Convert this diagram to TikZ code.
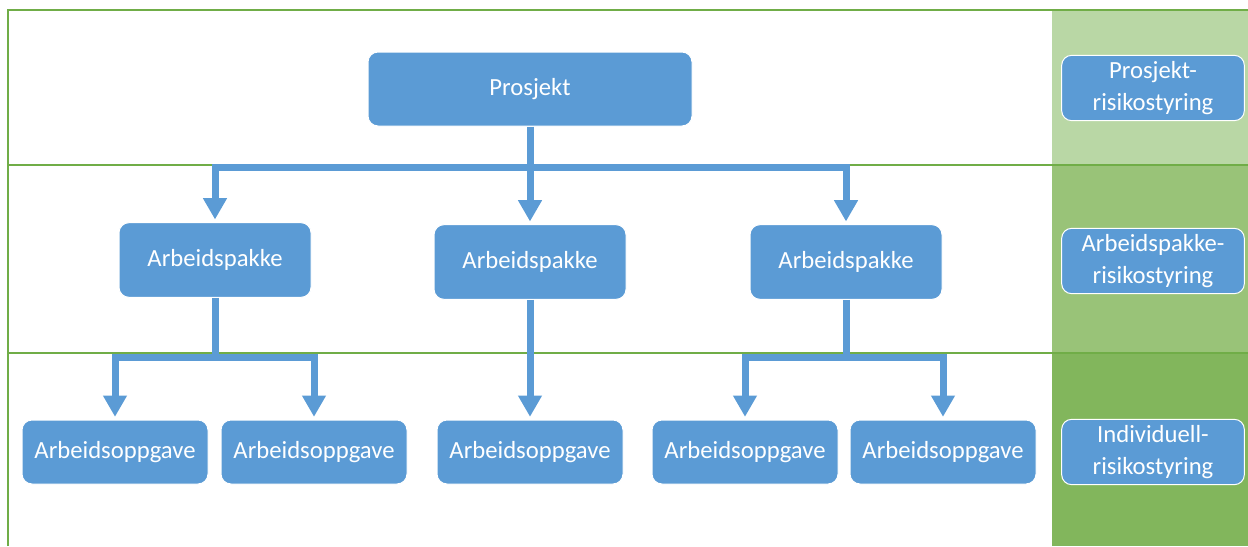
\documentclass[tikz,border=0pt]{standalone}
\usepackage{fontspec}
\setmainfont{Carlito}
\usetikzlibrary{arrows.meta}

\definecolor{boxblue}{HTML}{5B9BD5}
\definecolor{linegreen}{HTML}{70AD47}
\definecolor{bandtop}{RGB}{185,215,165}
\definecolor{bandmid}{RGB}{153,195,120}
\definecolor{bandlow}{RGB}{130,182,92}

\tikzset{every picture/.style={line width=0.75pt}}
\tikzset{
  unit/.style={draw=white, fill=boxblue, rounded corners=7.5pt, text=white,
    font=\fontsize{18.5}{23.5}\selectfont, align=center, inner sep=0pt},
  topunit/.style={unit, minimum width=243pt, minimum height=55.5pt},
  pakke/.style={unit, minimum width=144pt, minimum height=56pt},
  oppgave/.style={unit, minimum width=139.5pt, minimum height=48pt},
  levelbox/.style={unit, minimum width=137pt, minimum height=49pt},
  border/.style={draw=linegreen, line width=1.5pt},
  link/.style={draw=boxblue, line width=5.25pt},
  arr/.style={link, -{Triangle[width=17pt,length=16pt]}, shorten >=2pt},
}

\begin{document}
\begin{tikzpicture}[x=0.75pt,y=0.75pt,yscale=-1,xscale=1]
\useasboundingbox (0,0) rectangle (1248,546);

%Shape: level bands on the right
\fill [bandtop] (1052,10) rectangle (1248,165);
\fill [bandmid] (1052,165) rectangle (1248,353);
\fill [bandlow] (1052,353) rectangle (1248,546);

%Straight Lines: frame and level borders
\draw [border] (8,546) -- (8,10) -- (1248,10);
\draw [border] (8,165) -- (1248,165);
\draw [border] (8,353) -- (1248,353);

% Text Node
\node [topunit] (prosjekt) at (530,89) {Prosjekt};
% Text Node
\node [pakke] (pakkeA) at (215,260) {Arbeidspakke};
\node [pakke] (pakkeB) at (530,262) {Arbeidspakke};
\node [pakke] (pakkeC) at (846,262) {Arbeidspakke};
% Text Node
\node [oppgave] (oppgA) at (115,452) {Arbeidsoppgave};
\node [oppgave] (oppgB) at (314,452) {Arbeidsoppgave};
\node [oppgave] (oppgC) at (530,452) {Arbeidsoppgave};
\node [oppgave] (oppgD) at (745,452) {Arbeidsoppgave};
\node [oppgave] (oppgE) at (943,452) {Arbeidsoppgave};
% Text Node
\node [levelbox] (styrA) at (1153,88) {Prosjekt-\\risikostyring};
\node [levelbox] (styrB) at (1153,261) {Arbeidspakke-\\risikostyring};
\node [levelbox] (styrC) at (1153,452) {Individuell-\\risikostyring};

%Straight Lines: project to work packages
\coordinate (busA) at (530,167);
\draw [link] (prosjekt.south) -- (busA);
\draw [arr] (busA) -| (pakkeA.north);
\draw [arr] (busA) -- (pakkeB.north);
\draw [arr] (busA) -| (pakkeC.north);

%Straight Lines: work packages to tasks
\coordinate (busB) at (215,357);
\draw [link] (pakkeA.south) -- (busB);
\draw [arr] (busB) -| (oppgA.north);
\draw [arr] (busB) -| (oppgB.north);
\draw [arr] (pakkeB.south) -- (oppgC.north);
\coordinate (busC) at (846,357);
\draw [link] (pakkeC.south) -- (busC);
\draw [arr] (busC) -| (oppgD.north);
\draw [arr] (busC) -| (oppgE.north);

\end{tikzpicture}
\end{document}
